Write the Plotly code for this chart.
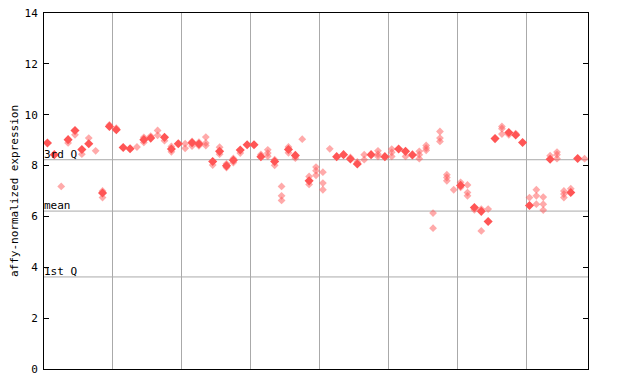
import plotly.graph_objects as go

# per-sample replicate values (79 samples)
solid_values = [
    [8.89], [8.43], [], [9.02], [9.38], [8.63], [8.86], [], [6.92], [9.54],
    [9.41], [8.71], [8.66], [], [9.02], [9.08], [], [9.11], [8.65], [8.86],
    [], [8.90], [8.85], [], [8.16], [8.56], [7.99], [8.21], [8.61], [8.82],
    [8.82], [8.35], [], [8.16], [], [8.63], [8.40], [], [7.40], [],
    [], [], [8.35], [8.43], [8.26], [8.06], [], [8.43], [], [8.35],
    [], [8.65], [8.56], [8.42], [], [], [], [], [], [],
    [7.22], [], [6.35], [6.20], [5.80], [9.06], [], [9.30], [9.20], [8.91],
    [6.43], [], [], [8.25], [], [], [6.94], [8.28], [],
]
hatched_values = [
    [], [], [7.18], [8.89], [9.21], [8.45], [9.08], [8.58], [7.00, 6.74], [9.60],
    [9.47], [], [], [8.73], [9.11, 8.91], [9.16], [9.38, 9.19], [8.98], [8.75, 8.54], [],
    [8.86, 8.68], [8.95, 8.77], [8.92, 8.78], [9.12, 8.89, 8.79], [8.02], [8.72, 8.45], [8.07, 7.92], [8.28, 8.12], [8.49], [],
    [], [8.44], [8.62, 8.49, 8.37], [8.23, 8.01], [7.18, 6.81, 6.63], [8.73, 8.50], [8.29], [9.04], [7.57, 7.26], [7.94, 7.80, 7.62],
    [7.74, 7.31, 7.05], [8.66], [], [], [8.32], [8.14], [8.43, 8.23], [], [8.58, 8.45, 8.36], [],
    [8.65, 8.52, 8.36], [], [8.36], [], [8.56, 8.43, 8.27], [8.79, 8.69, 8.60], [6.13, 5.54], [9.34, 9.08, 8.95], [7.64, 7.53, 7.40], [7.05],
    [7.34, 7.14], [7.24, 6.94, 6.81], [6.26], [6.29, 5.43], [6.29], [], [9.54, 9.45, 9.24], [9.21], [9.26], [],
    [6.74], [7.05, 6.81, 6.48], [6.76, 6.48, 6.25], [8.39], [8.53, 8.43, 8.27], [7.00, 6.88, 6.74], [7.09], [], [8.27],
]

stat_names = ["3rd Q", "mean", "1st Q"]
stat_values = [8.23, 6.21, 3.62]
group_bounds = [9.5, 19.5, 29.5, 39.5, 49.5, 59.5, 69.5]
y_ticks = [0, 2, 4, 6, 8, 10, 12, 14]

n = len(solid_values)
hx, hy, sx, sy = [], [], [], []
for i in range(n):
    for v in hatched_values[i]:
        hx.append(i); hy.append(v)
    for v in solid_values[i]:
        sx.append(i); sy.append(v)

fig = go.Figure()
fig.add_trace(go.Scatter(x=hx, y=hy, mode="markers",
                         marker=dict(symbol="diamond", size=6, color="#ff5555", opacity=0.5,
                                     line=dict(width=0)),
                         hoverinfo="y", showlegend=False))
fig.add_trace(go.Scatter(x=sx, y=sy, mode="markers",
                         marker=dict(symbol="diamond", size=7, color="#ff5555",
                                     line=dict(width=0)),
                         hoverinfo="y", showlegend=False))

for name, val in zip(stat_names, stat_values):
    fig.add_shape(type="line", xref="paper", x0=0, x1=1, yref="y", y0=val, y1=val,
                  line=dict(color="#aaaaaa", width=1), layer="below")
    fig.add_annotation(x=0, xref="paper", y=val, yref="y", text=name, showarrow=False,
                       xanchor="left", yanchor="bottom", yshift=-3, xshift=-2,
                       font=dict(family="DejaVu Sans Mono", size=11, color="black"))

mono = dict(family="DejaVu Sans Mono", size=11, color="black")
fig.update_layout(
    width=640, height=384,
    margin=dict(l=36, r=60, t=5, b=23, autoexpand=False),
    paper_bgcolor="white", plot_bgcolor="white",
    font=mono,
    xaxis=dict(range=[-0.5, n - 0.5], tickvals=group_bounds, showticklabels=False,
               ticks="", showgrid=True, gridcolor="#aaaaaa", gridwidth=1, automargin=False,
               showline=True, linecolor="black", linewidth=1, mirror=True, zeroline=False),
    yaxis=dict(range=[0, 14], tickvals=y_ticks, ticks="inside", ticklen=5,
               tickcolor="black", showgrid=False, zeroline=False, automargin=False,
               showline=True, linecolor="black", linewidth=1, mirror="ticks",
               ticklabelstandoff=3, ticklabeloverflow="allow",
               title=dict(text="affy-normalized expression",
                          font=dict(family="DejaVu Sans Mono", size=11, color="black"),
                          standoff=4),
               tickfont=mono),
)

fig.write_html("out.html")
